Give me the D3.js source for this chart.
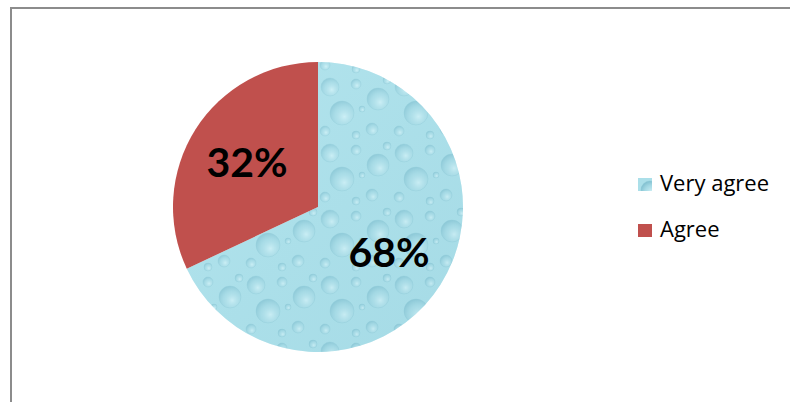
<!DOCTYPE html>
<html>
<head>
<meta charset="utf-8">
<script src="https://cdn.jsdelivr.net/npm/d3@7"></script>
<style>
  html, body { margin: 0; padding: 0; background: #ffffff; }
  svg { display: block; }
</style>
</head>
<body>
<svg id="chart" width="790" height="402"></svg>
<script>
// Survey response shares
const categories = ["Very agree", "Agree"];
const shares = [68, 32];
const labels = ["68%", "32%"];

const svg = d3.select("#chart");
const W = 790, H = 402;
const cx = 318, cy = 207, radius = 145;

const defs = svg.append("defs");

// Water-drop texture for the "Very agree" slice
const base = defs.append("linearGradient").attr("id", "waterBase")
  .attr("x1", "0").attr("y1", "0").attr("x2", "1").attr("y2", "1");
base.append("stop").attr("offset", "0").attr("stop-color", "#c4eef6");
base.append("stop").attr("offset", "0.5").attr("stop-color", "#ace0ea");
base.append("stop").attr("offset", "1").attr("stop-color", "#9bd3e0");

const drop = defs.append("radialGradient").attr("id", "drop")
  .attr("cx", "0.6").attr("cy", "0.65").attr("r", "0.65");
drop.append("stop").attr("offset", "0").attr("stop-color", "#dff8fc").attr("stop-opacity", 0.9);
drop.append("stop").attr("offset", "0.6").attr("stop-color", "#a2d6e2").attr("stop-opacity", 0.6);
drop.append("stop").attr("offset", "1").attr("stop-color", "#74b6c8").attr("stop-opacity", 0.75);

const tile = defs.append("pattern").attr("id", "water")
  .attr("patternUnits", "userSpaceOnUse")
  .attr("width", 74).attr("height", 66);
tile.append("rect").attr("width", 74).attr("height", 66).attr("fill", "#abdfe9");
// a handful of drops of different sizes inside one tile
const bubbles = [[12, 12, 9], [38, 9, 5], [60, 24, 11], [24, 38, 12], [54, 54, 6], [7, 56, 5], [38, 60, 4], [69, 5, 4], [44, 34, 3]];
tile.selectAll("circle").data(bubbles).join("circle")
  .attr("cx", d => d[0]).attr("cy", d => d[1]).attr("r", d => d[2])
  .attr("fill", "url(#drop)")
  .attr("stroke", "#86c3d2").attr("stroke-opacity", 0.55).attr("stroke-width", 0.8);

// Frame
svg.append("path")
  .attr("d", `M11,${H + 2} L11,8 L${W + 2},8`)
  .attr("fill", "none").attr("stroke", "#8c8c8c").attr("stroke-width", 2);

const fills = ["url(#water)", "#c0504d"];

const pie = d3.pie().sort(null).value(d => d)
  .startAngle(0).endAngle(2 * Math.PI);
const arcs = pie(shares);
const arc = d3.arc().innerRadius(0).outerRadius(radius);

const g = svg.append("g").attr("transform", `translate(${cx},${cy})`);

g.selectAll("path.slice").data(arcs).join("path")
  .attr("class", "slice")
  .attr("d", arc)
  .attr("fill", (d, i) => fills[i]);

// Soft tint over the textured slice
g.append("path").attr("d", arc(arcs[0]))
  .attr("fill", "url(#waterBase)").attr("opacity", 0.35);

// Percent labels
const labelArc = d3.arc().innerRadius(radius * 0.58).outerRadius(radius * 0.58);
g.selectAll("text.pct").data(arcs).join("text")
  .attr("class", "pct")
  .attr("transform", d => {
    const c = labelArc.centroid(d);
    return `translate(${c[0]},${c[1]})`;
  })
  .attr("text-anchor", "middle")
  .attr("dy", "0.36em")
  .attr("font-family", "Lato, 'Open Sans', sans-serif")
  .attr("font-weight", "bold")
  .attr("font-size", 41)
  .attr("fill", "#000")
  .text((d, i) => labels[i]);

// Legend
const legend = svg.append("g").attr("transform", "translate(638,178)");
const item = legend.selectAll("g").data(categories).join("g")
  .attr("transform", (d, i) => `translate(0,${i * 46})`);
item.append("rect")
  .attr("width", 14).attr("height", 13)
  .attr("fill", (d, i) => fills[i]);
item.append("text")
  .attr("x", 22).attr("y", 13)
  .attr("font-family", "'Open Sans', Lato, sans-serif")
  .attr("font-size", 22)
  .attr("fill", "#000")
  .text(d => d);
</script>
</body>
</html>
